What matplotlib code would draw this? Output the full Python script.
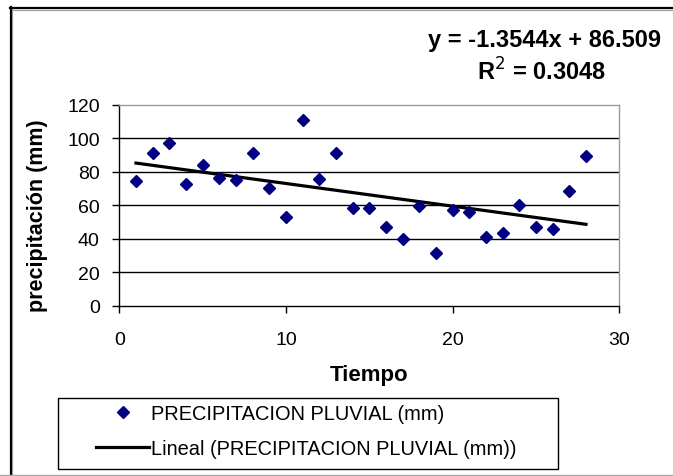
import numpy as np
import matplotlib
matplotlib.use("Agg")
import matplotlib.pyplot as plt
from matplotlib.lines import Line2D
from matplotlib.patches import Rectangle

plt.rcParams["font.family"] = ["Liberation Sans", "DejaVu Sans"]

# datos
tiempo = [1, 2, 3, 4, 5, 6, 7, 8, 9, 10, 11, 12, 13, 14,
          15, 16, 17, 18, 19, 20, 21, 22, 23, 24, 25, 26, 27, 28]
precipitacion = [74.3, 91.2, 97.0, 72.9, 84.0, 76.1, 75.3, 91.0, 70.1, 52.8,
                 111.1, 75.7, 91.0, 58.5, 58.5, 47.2, 39.8, 59.7, 31.5, 57.3,
                 56.2, 40.9, 43.2, 60.2, 47.2, 45.8, 68.5, 89.6]

# recta de tendencia (Excel)
pendiente = -1.3544
ordenada = 86.509
r2 = 0.3048

y_ticks = [0, 20, 40, 60, 80, 100, 120]
x_ticks = [0, 10, 20, 30]

W, H = 673, 477
fig = plt.figure(figsize=(W / 100, H / 100), dpi=100)

# marco exterior del grafico
fig.add_artist(Line2D([10 / W, 1], [1 - 8.5 / H, 1 - 8.5 / H], color="black", lw=1.6))
fig.add_artist(Line2D([10.5 / W, 10.5 / W], [0, 1 - 8 / H], color="black", lw=1.6))
fig.add_artist(Line2D([12 / W, 1], [1 - 10.5 / H, 1 - 10.5 / H], color="#999999", lw=0.8))
fig.add_artist(Line2D([12 / W, 12 / W], [0, 1 - 10 / H], color="#999999", lw=0.8))
fig.add_artist(Line2D([0, 1], [0.6 / H, 0.6 / H], color="#aaaaaa", lw=1.0))

ax = fig.add_axes([119.3 / W, 1 - 306.7 / H, 500 / W, 201 / H])
ax.set_xlim(0, 30)
ax.set_ylim(0, 120)

for v in y_ticks[1:-1]:
    ax.axhline(v, color="black", lw=1.0, zorder=1)

ax.spines["top"].set_color("#999999")
ax.spines["right"].set_color("#999999")
ax.spines["left"].set_color("black")
ax.spines["bottom"].set_color("black")
for s in ax.spines.values():
    s.set_linewidth(1.0)

ax.set_xticks(x_ticks)
ax.set_yticks(y_ticks)
ax.tick_params(axis="both", direction="out", length=5, width=1.0,
               labelsize=14, color="black")
ax.tick_params(axis="y", pad=9)
ax.tick_params(axis="x", pad=13)

puntos, = ax.plot(tiempo, precipitacion, ls="none", marker="D", ms=6.6,
                  color="#000080", mec="#000080", zorder=3)

xt = np.array([tiempo[0], tiempo[-1]])
tendencia, = ax.plot(xt, pendiente * xt + ordenada, color="black", lw=2.3, zorder=2)

ax.set_xlabel("Tiempo", fontsize=16, fontweight="bold", labelpad=12)
ax.set_ylabel("precipitación (mm)", fontsize=15.5, fontweight="bold")
ax.yaxis.set_label_coords((48 - 119.3) / 500, (306.7 - 216) / 201)

fig.text(544 / W, 1 - 41 / H, f"y = {pendiente}x + {ordenada}",
         ha="center", va="center", fontsize=17, fontweight="bold")
fig.text(541 / W, 1 - 72 / H, f"R$^2$ = {r2}",
         ha="center", va="center", fontsize=17, fontweight="bold")

# caja de la leyenda
fig.add_artist(Rectangle((57.5 / W, 1 - 470 / H), 500 / W, 71 / H,
                         transform=fig.transFigure, fill=False,
                         edgecolor="black", lw=1.0))
fig.legend([puntos, tendencia],
           ["PRECIPITACION PLUVIAL (mm)", "Lineal (PRECIPITACION PLUVIAL (mm))"],
           loc="upper left", bbox_to_anchor=(96 / W, 1 - 405 / H),
           frameon=False, fontsize=14.4, handlelength=2.65, handletextpad=0.1,
           borderpad=0, borderaxespad=0, labelspacing=0.78, numpoints=1)

fig.savefig("out.png", dpi=100)
